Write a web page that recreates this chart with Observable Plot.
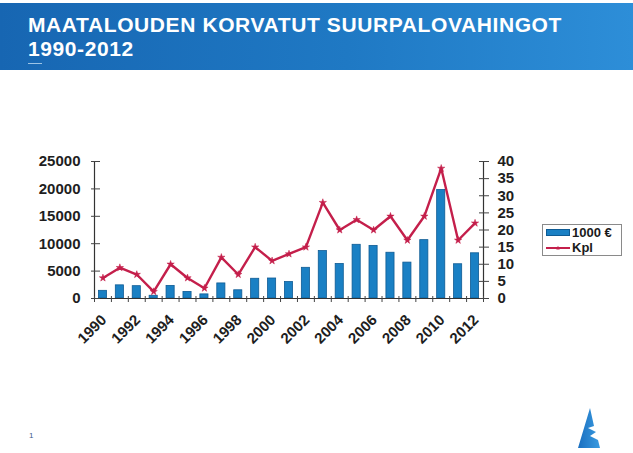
<!DOCTYPE html>
<html>
<head>
<meta charset="utf-8">
<script src="https://cdn.jsdelivr.net/npm/d3@7"></script>
<script src="https://cdn.jsdelivr.net/npm/@observablehq/plot@0.6"></script>
<style>
  html, body { margin: 0; padding: 0; background: #fff; }
  #page { position: relative; width: 633px; height: 453px; overflow: hidden; font-family: "Liberation Sans", Arial, sans-serif; }
  #banner { position: absolute; left: 0; top: 3px; width: 633px; height: 67px;
            background: linear-gradient(90deg, #1766b2 0%, #1f79c4 55%, #2d8ed8 100%); }
  .tl { position: absolute; left: 28px; height: 24px; color: #fff; font-weight: bold; font-size: 21px; line-height: 24px; letter-spacing: 0.6px; white-space: nowrap; }
  #dash { position: absolute; left: 28px; top: 63px; width: 14px; height: 1px; background: #9cc4e6; }
  #chart { position: absolute; left: 0; top: 70px; }
  #legend { position: absolute; left: 542px; top: 224px; width: 78px; height: 30px; border: 1px solid #8a8a8a; background: #fff;
            font-weight: bold; font-size: 13px; color: #1a1a1a; }
  .lg { position: absolute; left: 3px; height: 15px; line-height: 15px; white-space: nowrap; display: flex; align-items: center; }
  .sw { flex: none; width: 24px; margin-right: 2px; }
  #pnum { position: absolute; left: 29px; top: 431px; font-size: 8px; color: #3b5b8a; }
  #logo { position: absolute; left: 576px; top: 406px; }
</style>
</head>
<body>
<div id="page">
  <div id="banner"></div>
  <div class="tl" style="top:13px">MAATALOUDEN KORVATUT SUURPALOVAHINGOT</div>
  <div class="tl" style="top:37px">1990-2012</div>
  <div id="dash"></div>
  <div id="chart"></div>
  <div id="legend">
    <div class="lg" style="top:0px"><span class="sw" style="height:7px;background:#1a80c4;border:1px solid #0e5b94;box-sizing:border-box"></span><span>1000 €</span></div>
    <div class="lg" style="top:15px"><svg class="sw" width="24" height="12"><line x1="0" y1="6" x2="24" y2="6" stroke="#c41f4b" stroke-width="2"/><path d="M12,3.8 L12.7,5.3 L14.3,5.4 L13.1,6.5 L13.5,8.1 L12,7.2 L10.5,8.1 L10.9,6.5 L9.7,5.4 L11.3,5.3 Z" fill="#c41f4b"/></svg><span>Kpl</span></div>
  </div>
  <div id="pnum">1</div>
  <svg id="logo" width="28" height="44" viewBox="0 0 28 44">
    <defs><linearGradient id="lgr" x1="0" x2="1"><stop offset="0" stop-color="#1a6fc0"/><stop offset="1" stop-color="#3a9be0"/></linearGradient></defs>
    <path d="M14,2 L18,20 L12,22 L20,26 L14,30 L22,34 L24,42 L2,42 Z" fill="url(#lgr)"/>
  </svg>
</div>
<script>
const years = [1990,1991,1992,1993,1994,1995,1996,1997,1998,1999,2000,2001,2002,2003,2004,2005,2006,2007,2008,2009,2010,2011,2012];
const euros = [1400,2400,2250,500,2300,1200,750,2750,1500,3600,3650,3000,5600,8650,6300,9800,9600,8350,6550,10650,19800,6250,8250];
const kpl = [6,9,7,2,10,6,3,12,7,15,11,13,15,28,20,23,20,24,17,24,38,17,22];
const leftTicks = [0,5000,10000,15000,20000,25000];
const rightTicks = [0,5,10,15,20,25,30,35,40];
const yearLabels = [1990,1992,1994,1996,1998,2000,2002,2004,2006,2008,2010,2012];

const leftMax = leftTicks[leftTicks.length - 1];
const rightMax = rightTicks[rightTicks.length - 1];
const ratio = leftMax / rightMax;

const data = years.map((year, i) => ({year, euro: euros[i], kpl: kpl[i]}));
const xDomain = [years[0] - 0.5, years[years.length - 1] + 0.5];
const bounds = d3.range(xDomain[0], xDomain[1] + 0.01, 1);

const barHalf = 0.24;
const red = "#c41f4b";
const font = {fontSize: 15, fontWeight: "bold"};

const chart = Plot.plot({
  width: 633,
  height: 383,
  marginTop: 91,
  marginBottom: 155,
  marginLeft: 94,
  marginRight: 150,
  style: {fontFamily: "'Liberation Sans', Arial, sans-serif", color: "#1e1e1e", background: "transparent", overflow: "visible"},
  x: {domain: xDomain},
  y: {domain: [0, leftMax]},
  marks: [
    Plot.rectY(data, {x1: d => d.year - barHalf, x2: d => d.year + barHalf, y: "euro", fill: "#1a80c4", stroke: "#0e5b94", strokeWidth: 0.8}),
    Plot.ruleY([0], {stroke: "#333", strokeWidth: 1.2}),
    Plot.ruleX([xDomain[0], xDomain[1]], {stroke: "#333", strokeWidth: 1.2}),
    Plot.axisX(bounds, {tickSize: 6, dy: -2, tickFormat: () => "", stroke: "#444", label: null}),
    Plot.axisX(yearLabels, {tickSize: 0, tickRotate: -45, tickPadding: 14, dy: 5, dx: 1, tickFormat: d => String(d), label: null, ...font}),
    Plot.axisY(leftTicks, {anchor: "left", tickSize: 9, dx: 6, tickFormat: () => "", stroke: "#444", label: null}),
    Plot.axisY(leftTicks, {anchor: "left", tickSize: 0, tickPadding: 14, tickFormat: d => String(d), label: null, ...font}),
    Plot.axisY(rightTicks.map(v => v * ratio), {anchor: "right", tickSize: 10, dx: -5, tickFormat: () => "", stroke: "#444", label: null}),
    Plot.axisY(rightTicks.map(v => v * ratio), {anchor: "right", tickSize: 0, tickPadding: 14, tickFormat: d => String(Math.round(d / ratio)), label: null, ...font}),
    Plot.lineY(data, {x: "year", y: d => d.kpl * ratio, stroke: red, strokeWidth: 2.4}),
    Plot.dot(data, {x: "year", y: d => d.kpl * ratio, symbol: "star", r: 2.3, fill: red, stroke: red, strokeWidth: 0.5})
  ]
});
document.getElementById("chart").appendChild(chart);
</script>
</body>
</html>
